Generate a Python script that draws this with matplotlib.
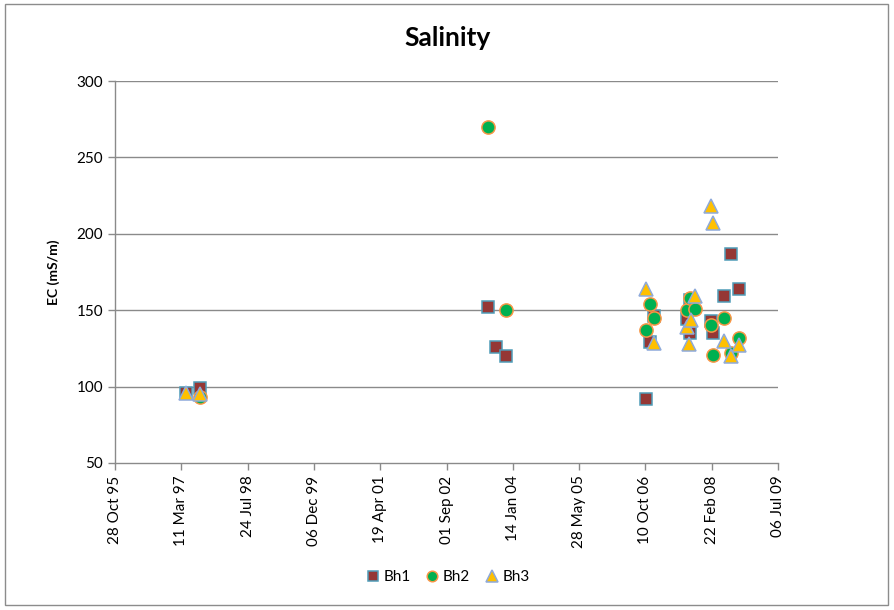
import matplotlib
matplotlib.use("Agg")
import matplotlib.pyplot as plt
import matplotlib.dates as mdates
import pandas as pd
from matplotlib.patches import Rectangle

# Sampling dates and EC readings (mS/m) for each borehole
bh1_dates = ["1997-04-15", "1997-07-29", "2003-07-11", "2003-09-09", "2003-11-20",
             "2006-10-15", "2006-11-14", "2006-12-14", "2007-08-20", "2007-09-11",
             "2007-09-11", "2008-02-20", "2008-03-03", "2008-05-28", "2008-07-20",
             "2008-09-17"]
bh1_ec = [96, 99, 152, 126, 120, 92, 129, 146, 144, 157, 135, 143, 135, 159, 187, 164]

bh2_dates = ["1997-07-29", "2003-07-11", "2003-11-20", "2006-10-15", "2006-11-14",
             "2006-12-14", "2007-08-20", "2007-09-11", "2007-10-19", "2008-02-20",
             "2008-03-03", "2008-05-28", "2008-07-20", "2008-09-17"]
bh2_ec = [93, 270, 150, 137, 154, 145, 150, 158, 151, 140, 121, 145, 122, 132]

bh3_dates = ["1997-04-15", "1997-07-29", "2006-10-15", "2006-12-14", "2007-08-20",
             "2007-09-04", "2007-09-19", "2007-10-19", "2008-02-20", "2008-03-03",
             "2008-05-28", "2008-07-20", "2008-09-17"]
bh3_ec = [96, 95, 164, 128.5, 139, 128, 143.5, 159, 218, 207, 130, 120, 127]

x_start = "1995-10-28"
x_end = "2009-07-06"
y_ticks = [50, 100, 150, 200, 250, 300]

plt.rcParams["font.family"] = ["Lato", "DejaVu Sans"]

fig = plt.figure(figsize=(8.95, 6.1), dpi=100)
fig.patches.append(Rectangle((0.006, 0.008), 0.986, 0.985, transform=fig.transFigure,
                             fill=False, edgecolor="#8c8c8c", linewidth=1.0))

ax = fig.add_axes([0.1285, 0.241, 0.7408, 0.6262])

grid_col = "#8a8a8a"
for y in y_ticks[1:]:
    ax.axhline(y, color=grid_col, linewidth=1.0, zorder=1)

ax.plot(pd.to_datetime(bh1_dates), bh1_ec, linestyle="none", marker="s", markersize=9,
        markerfacecolor="#953735", markeredgecolor="#4f9cb8", markeredgewidth=1.1,
        label="Bh1", zorder=3)
ax.plot(pd.to_datetime(bh2_dates), bh2_ec, linestyle="none", marker="o", markersize=9.5,
        markerfacecolor="#00b050", markeredgecolor="#f79646", markeredgewidth=1.1,
        label="Bh2", zorder=4)
ax.plot(pd.to_datetime(bh3_dates), bh3_ec, linestyle="none", marker="^", markersize=10,
        markerfacecolor="#ffc000", markeredgecolor="#8eaadb", markeredgewidth=1.1,
        label="Bh3", zorder=5)

ax.set_xlim(pd.Timestamp(x_start), pd.Timestamp(x_end))
ax.set_ylim(50, 300)
ax.set_yticks(y_ticks)
ax.set_xticks(pd.date_range(x_start, periods=11, freq="500D"))
ax.xaxis.set_major_formatter(mdates.DateFormatter("%d %b %y"))

for side in ("top", "right"):
    ax.spines[side].set_visible(False)
for side in ("left", "bottom"):
    ax.spines[side].set_color(grid_col)
    ax.spines[side].set_linewidth(1.0)

ax.tick_params(axis="both", colors=grid_col, length=5, width=1.0, labelcolor="black",
               labelsize=11)
ax.tick_params(axis="x", labelrotation=90, pad=4)

ax.set_ylabel("EC (mS/m)", fontsize=10, fontweight="bold", labelpad=12)
fig.suptitle("Salinity", x=0.5, y=0.958, fontsize=19, fontweight="bold")

fig.legend(loc="center", bbox_to_anchor=(0.5, 0.054), ncol=3, frameon=False,
           fontsize=11, handletextpad=0.2, columnspacing=0.9, markerscale=0.8,
           handlelength=1.0)

fig.savefig("out.png", dpi=100)
